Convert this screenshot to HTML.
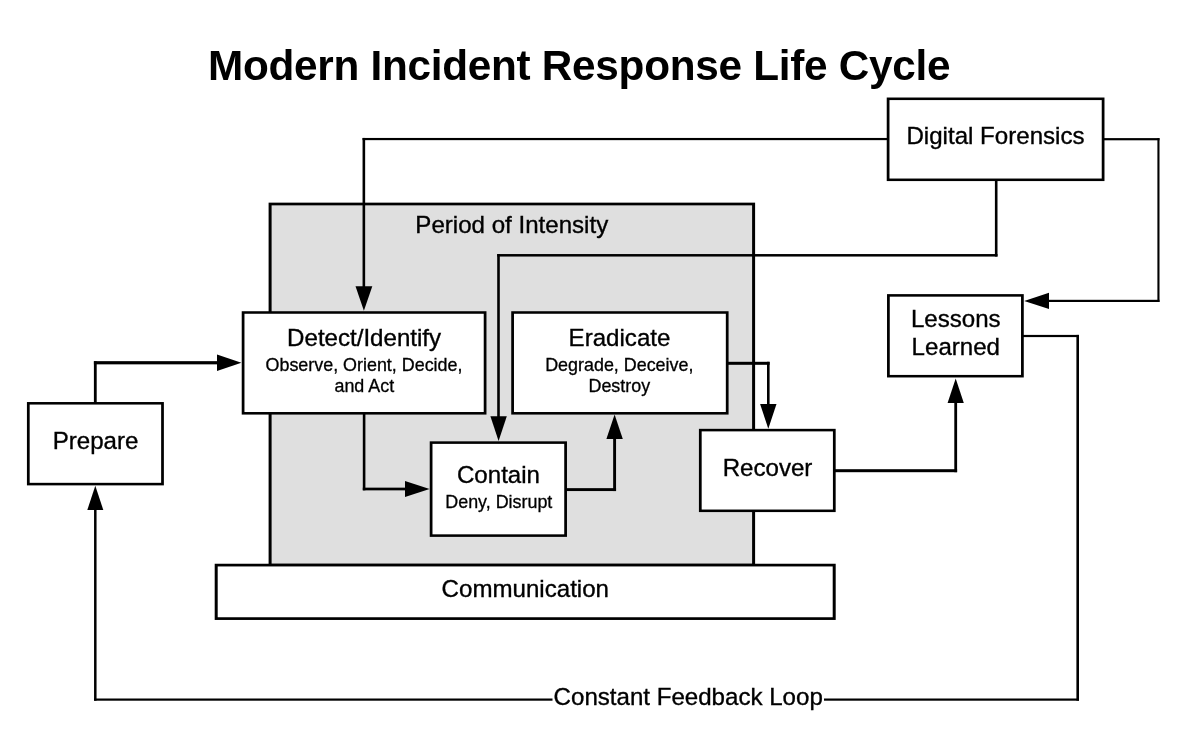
<!DOCTYPE html>
<html lang="en">
<head>
<meta charset="utf-8">
<title>Modern Incident Response Life Cycle</title>
<style>
html,body{margin:0;padding:0;background:#fff;}
svg{display:block;will-change:transform;}
text{font-family:"Liberation Sans",Arial,Helvetica,sans-serif;fill:#000;}
.big{font-size:24.1px;text-anchor:middle;stroke:#000;stroke-width:0.35px;}
.sm{font-size:17.9px;text-anchor:middle;stroke:#000;stroke-width:0.3px;}
</style>
</head>
<body>
<svg width="1188" height="742" viewBox="0 0 1188 742">
<rect x="0" y="0" width="1188" height="742" fill="#fff"/>
<text x="208" y="79.5" font-size="42.3" font-weight="bold" textLength="742.5" lengthAdjust="spacing">Modern Incident Response Life Cycle</text>
<rect x="268.60" y="202.65" width="486.50" height="363.80" fill="#000"/>
<rect x="271.60" y="205.35" width="480.50" height="358.40" fill="#dfdfdf"/>
<text class="big" x="511.8" y="233">Period of Intensity</text>
<rect x="362.55" y="137.95" width="525.45" height="2.20" fill="#000"/>
<rect x="362.55" y="137.95" width="2.60" height="152.05" fill="#000"/>
<path d="M363.9 310.8 L355.5 286.2 H372.3 Z" fill="#000"/>
<rect x="994.90" y="180.00" width="2.60" height="76.55" fill="#000"/>
<rect x="497.20" y="254.05" width="500.30" height="2.50" fill="#000"/>
<rect x="497.20" y="254.05" width="2.60" height="165.95" fill="#000"/>
<path d="M498.6 441 L490.4 416.3 H506.8 Z" fill="#000"/>
<rect x="1104.00" y="138.10" width="55.50" height="2.20" fill="#000"/>
<rect x="1157.40" y="138.10" width="2.10" height="163.90" fill="#000"/>
<rect x="1046.00" y="299.80" width="113.50" height="2.20" fill="#000"/>
<path d="M1024.2 300.9 L1049 292.7 V309.1 Z" fill="#000"/>
<rect x="93.90" y="361.30" width="2.80" height="41.70" fill="#000"/>
<rect x="93.90" y="361.15" width="126.10" height="3.20" fill="#000"/>
<path d="M241.4 362.75 L217 354.45 V371.05 Z" fill="#000"/>
<rect x="362.80" y="413.00" width="2.60" height="77.30" fill="#000"/>
<rect x="362.80" y="487.65" width="45.20" height="2.70" fill="#000"/>
<path d="M429.6 489 L405 480.9 V497.1 Z" fill="#000"/>
<rect x="566.00" y="488.15" width="50.05" height="2.90" fill="#000"/>
<rect x="613.15" y="436.00" width="2.90" height="55.05" fill="#000"/>
<path d="M614.6 414.4 L606.4 438.9 H622.8 Z" fill="#000"/>
<rect x="728.00" y="361.80" width="41.60" height="3.00" fill="#000"/>
<rect x="767.00" y="361.80" width="2.60" height="44.20" fill="#000"/>
<path d="M768.3 428.8 L760.1 404 H776.5 Z" fill="#000"/>
<rect x="835.00" y="469.20" width="122.10" height="3.00" fill="#000"/>
<rect x="954.30" y="400.00" width="2.80" height="72.20" fill="#000"/>
<path d="M955.7 378.4 L947.6 403 H963.8 Z" fill="#000"/>
<rect x="1023.00" y="334.90" width="56.00" height="2.20" fill="#000"/>
<rect x="1076.40" y="334.90" width="2.60" height="365.80" fill="#000"/>
<rect x="94.05" y="698.50" width="984.95" height="2.20" fill="#000"/>
<rect x="94.05" y="507.00" width="2.50" height="193.70" fill="#000"/>
<path d="M95.3 485.8 L87.3 510 H103.3 Z" fill="#000"/>
<rect x="886.73" y="97.52" width="217.75" height="83.55" fill="#000"/>
<rect x="889.48" y="100.08" width="212.25" height="78.45" fill="#fff"/>
<text class="big" x="995.5" y="144.3">Digital Forensics</text>
<rect x="887.02" y="294.12" width="136.75" height="83.35" fill="#000"/>
<rect x="889.77" y="296.67" width="131.25" height="78.25" fill="#fff"/>
<text class="big" x="955.8" y="326.7">Lessons</text>
<text class="big" x="955.8" y="355.4">Learned</text>
<rect x="241.72" y="311.23" width="244.75" height="103.35" fill="#000"/>
<rect x="244.47" y="313.77" width="239.25" height="98.25" fill="#fff"/>
<text class="big" x="364.1" y="346">Detect/Identify</text>
<text class="sm" x="364" y="370.5">Observe, Orient, Decide,</text>
<text class="sm" x="364.3" y="392">and Act</text>
<rect x="511.23" y="311.23" width="217.35" height="103.35" fill="#000"/>
<rect x="513.98" y="313.77" width="211.85" height="98.25" fill="#fff"/>
<text class="big" x="619.5" y="346">Eradicate</text>
<text class="sm" x="619.3" y="370.5">Degrade, Deceive,</text>
<text class="sm" x="619.3" y="392">Destroy</text>
<rect x="429.73" y="441.33" width="137.25" height="95.55" fill="#000"/>
<rect x="432.48" y="443.88" width="131.75" height="90.45" fill="#fff"/>
<text class="big" x="498.5" y="483.3">Contain</text>
<text class="sm" x="498.8" y="507.6">Deny, Disrupt</text>
<rect x="698.92" y="428.83" width="136.75" height="83.25" fill="#000"/>
<rect x="701.67" y="431.38" width="131.25" height="78.15" fill="#fff"/>
<text class="big" x="767.5" y="475.7">Recover</text>
<rect x="26.93" y="402.03" width="136.95" height="83.35" fill="#000"/>
<rect x="29.68" y="404.57" width="131.45" height="78.25" fill="#fff"/>
<text class="big" x="95.5" y="448.6">Prepare</text>
<rect x="214.70" y="563.75" width="621.00" height="56.20" fill="#000"/>
<rect x="217.70" y="566.45" width="615.00" height="50.80" fill="#fff"/>
<text class="big" x="525.3" y="596.5">Communication</text>
<rect x="552.5" y="684" width="271.5" height="26" fill="#fff"/>
<text class="big" x="688.2" y="705">Constant Feedback Loop</text>
</svg>
</body>
</html>
